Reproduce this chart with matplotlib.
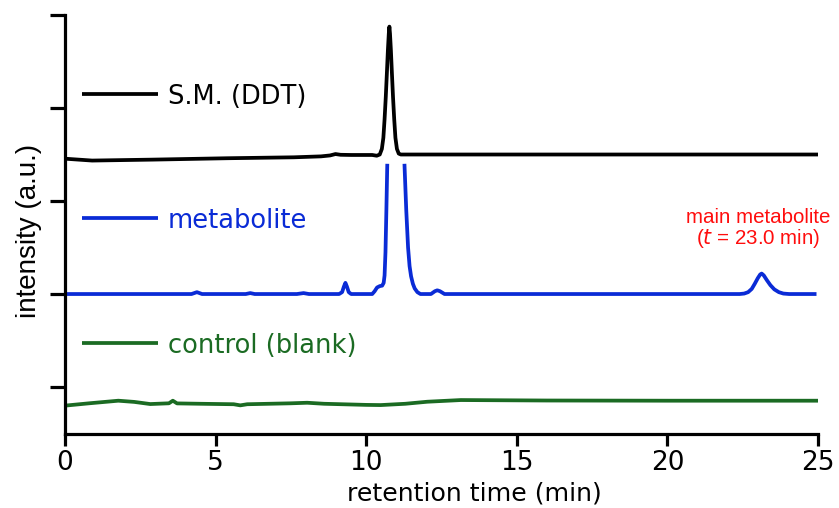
import numpy as np
import matplotlib
matplotlib.use("Agg")
import matplotlib.pyplot as plt

# ---- data ----
sm_time = [0, 0.9, 2.9, 5.4, 7.6, 8.5, 8.8, 8.98, 9.15, 9.5, 10.2, 10.35, 10.45, 10.52, 10.57,
           10.61, 10.65, 10.69, 10.72, 10.75, 10.77, 10.79, 10.82, 10.85, 10.89, 10.93,
           10.97, 11.02, 11.08, 11.15, 12.0, 25.0]
sm_int = [2.455, 2.435, 2.445, 2.46, 2.47, 2.48, 2.49, 2.505, 2.497, 2.495, 2.495, 2.487,
          2.50, 2.56, 2.68, 2.88, 3.12, 3.40, 3.62, 3.80, 3.875, 3.80, 3.62, 3.40, 3.12,
          2.88, 2.68, 2.56, 2.51, 2.50, 2.50, 2.50]

met_time = [0, 3.6, 4.2, 4.38, 4.55, 5.5, 6.0, 6.15, 6.3, 7.7, 7.92, 8.1, 9.1, 9.2, 9.26,
            9.31, 9.36, 9.42, 9.5, 10.2, 10.28, 10.36, 10.45, 10.53, 10.58, 10.61, 10.64,
            10.67, 10.70, 11.0, 11.27, 11.33, 11.39, 11.44, 11.49, 11.55, 11.61, 11.7,
            11.8, 12.15, 12.28, 12.36, 12.45, 12.6, 22.4, 22.55, 22.68, 22.8, 22.9, 23.0,
            23.08, 23.13, 23.2, 23.3, 23.42, 23.55, 23.7, 23.85, 24.04, 24.95]
met_int = [1.0, 1.0, 1.0, 1.02, 1.0, 1.0, 1.0, 1.01, 1.0, 1.0, 1.01, 1.0, 1.0, 1.02, 1.08,
           1.12, 1.08, 1.02, 1.0, 1.0, 1.03, 1.07, 1.085, 1.09, 1.12, 1.2, 1.45,
           1.9, 2.40, np.nan, 2.40, 1.9, 1.50, 1.30, 1.19, 1.11, 1.06, 1.02,
           1.0, 1.0, 1.03, 1.04, 1.03, 1.0, 1.0, 1.005, 1.02, 1.055, 1.11, 1.17,
           1.21, 1.22, 1.20, 1.15, 1.095, 1.05, 1.02, 1.005, 1.0, 1.0]

ctl_time = [0, 0.8, 1.77, 2.3, 2.83, 3.45, 3.58, 3.72, 4.5, 5.6, 5.82, 6.05, 7.5, 8.04,
            8.6, 10.0, 10.48, 11.3, 12.03, 13.14, 16, 20, 25]
ctl_int = [-0.20, -0.175, -0.147, -0.16, -0.183, -0.175, -0.147, -0.176, -0.180, -0.185,
           -0.197, -0.185, -0.175, -0.169, -0.180, -0.192, -0.194, -0.18, -0.158, -0.14,
           -0.145, -0.147, -0.147]

labels = ["S.M. (DDT)", "metabolite", "control (blank)"]
colors = ["#000000", "#0a2bd6", "#1b6b23"]
xticks = [0, 5, 10, 15, 20, 25]
yticks = [0, 1, 2, 3, 4]

fig = plt.figure(figsize=(8.39, 5.08), dpi=100)
ax = fig.add_axes([65/839, 1-434/508, (818-65)/839, (434-15)/508])

lw = 2.7
for t, v, c in [(sm_time, sm_int, colors[0]), (met_time, met_int, colors[1]),
                (ctl_time, ctl_int, colors[2])]:
    ax.plot(t, v, color=c, lw=lw, solid_capstyle="butt", solid_joinstyle="round")

ax.set_xlim(0, 25)
ax.set_ylim(-0.505, 4.0)
ax.set_xticks(xticks)
ax.set_xticklabels([str(v) for v in xticks])
ax.set_yticks(yticks)
ax.set_yticklabels([])

for s in ["top", "right"]:
    ax.spines[s].set_visible(False)
for s in ["left", "bottom"]:
    ax.spines[s].set_linewidth(2.3)
ax.tick_params(axis="y", direction="out", length=11, width=2.3)
ax.tick_params(axis="x", direction="out", length=8.5, width=2.3, pad=3, labelsize=19)

ax.set_xlabel("retention time (min)", fontsize=18.2, family="DejaVu Sans")
ax.xaxis.set_label_coords((474-65)/753, (434-482)/419)
ax.set_ylabel("intensity (a.u.)", fontsize=20, family="Liberation Sans")
ax.yaxis.set_label_coords((42-65)/753, (434-231)/419)

# legend-style labels
leg_y = [94, 218, 343]
for lab, col, yy in zip(labels, colors, leg_y):
    fy = (434-yy)/419
    ax.plot([(82-65)/753, (158-65)/753], [fy, fy], color=col, lw=lw,
            transform=ax.transAxes, solid_capstyle="butt", clip_on=False)
    ax.text((168-65)/753, fy, lab, color=col, fontsize=18.5, family="DejaVu Sans",
            transform=ax.transAxes, ha="left", va="center_baseline")

ax.text(23.0, 1.70, "main metabolite\n($\\mathit{t}$ = 23.0 min)", color="#ff0d0d",
        fontsize=14.8, family="Liberation Sans", ha="center", va="center",
        linespacing=1.0)

fig.savefig("out.png", dpi=100)
